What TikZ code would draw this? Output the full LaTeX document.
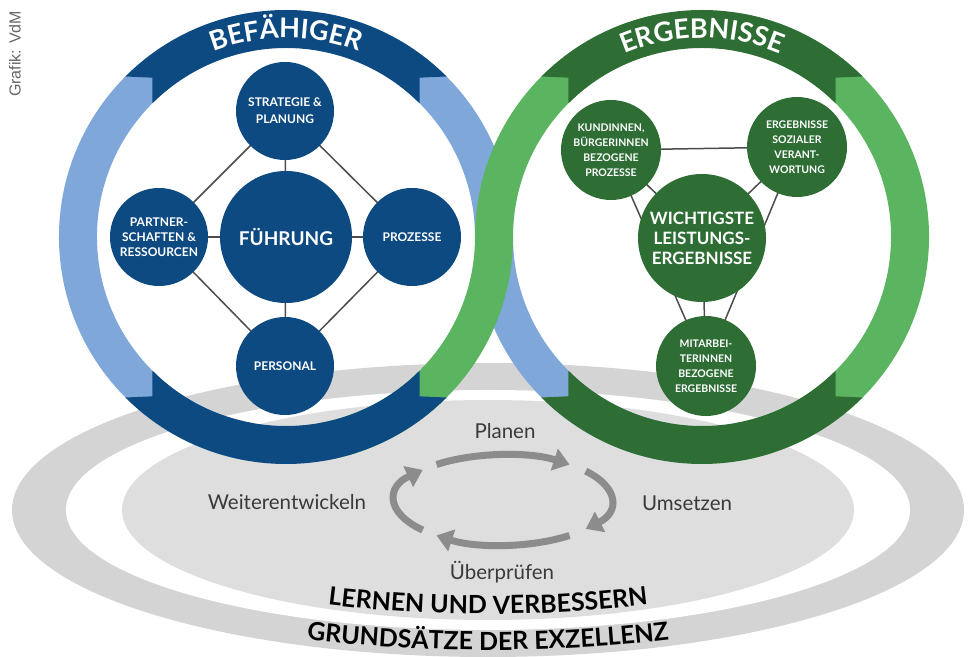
\documentclass[tikz,border=0pt]{standalone}
\usepackage{fontspec}
\setmainfont{Lato}
\newfontfamily\grafikfont{Liberation Sans}
\usetikzlibrary{arrows.meta,decorations.text,backgrounds}

\definecolor{befblue}{HTML}{0D4A82}
\definecolor{beflight}{HTML}{7FA7DA}
\definecolor{ergreen}{HTML}{2E6E35}
\definecolor{erlight}{HTML}{5BB45F}
\definecolor{greyout}{HTML}{D4D4D4}
\definecolor{greyin}{HTML}{DEDEDE}
\definecolor{cyclegrey}{HTML}{8C8C8C}
\definecolor{textgrey}{HTML}{3A3A3A}

\begin{document}
\begin{tikzpicture}[x=1pt, y=1pt,
    bluenode/.style={circle, fill=befblue, text=white, align=center, inner sep=0pt, minimum size=98pt, font=\fontsize{12}{15}\selectfont\bfseries},
    greennode/.style={circle, fill=ergreen, text=white, align=center, inner sep=0pt, minimum size=100pt, font=\fontsize{10.5}{15}\selectfont\bfseries},
    link/.style={draw=black!70, line width=1.5pt},
    lightring/.style={line width=38pt},
    cyclearrow/.style={draw=cyclegrey, line width=7pt, -{Triangle[length=16pt,width=22pt]}},
    cyclelabel/.style={text=textgrey, font=\fontsize{20.5}{23}\selectfont}
  ]
  \useasboundingbox (0,0) rectangle (968,656);

  % Centres of rings, ellipses and cycle
  \coordinate (L) at (286,419);
  \coordinate (R) at (702,419);
  \coordinate (E) at (488,146);
  \coordinate (C) at (503,156);

  % Grey ellipses
  \fill[greyout] (E) ellipse[x radius=476, y radius=147];
  \fill[white] (E) ellipse[x radius=422, y radius=120];
  \fill[greyin] (E) ellipse[x radius=366, y radius=110];

  % Light parts of the rings
  \draw[lightring, beflight] ([shift={(L)}]100:208) arc[start angle=100, end angle=260, radius=208];
  \draw[lightring, erlight] ([shift={(R)}]80:208) arc[start angle=80, end angle=-80, radius=208];
  % crossing: blue runs on into the right ring, green into the left one
  \draw[lightring, beflight] ([shift={(L)}]80:208) arc[start angle=80, end angle=0, radius=208] arc[start angle=180, end angle=260, radius=208];
  \draw[lightring, erlight] ([shift={(R)}]100:208) arc[start angle=100, end angle=180, radius=208] arc[start angle=0, end angle=-80, radius=208];

  % Dark parts of the rings
  \foreach \c/\col in {L/befblue, R/ergreen}
    \foreach \a in {45,225}
      \fill[\col] ([shift={(\c)}]\a:227) arc[start angle=\a, delta angle=90, radius=227]
        -- ([shift={(\c)}]\a+85:208) -- ([shift={(\c)}]\a+90:189)
        arc[start angle=\a+90, delta angle=-90, radius=189]
        -- ([shift={(\c)}]\a+5:208) -- cycle;

  % Ring titles
  \path[decorate, decoration={text along path, text color=white, text align=center,
      text={|\fontsize{27}{30}\selectfont\bfseries|BEFÄHIGER}}]
    ([shift={(L)}]135:199) arc[start angle=135, end angle=45, radius=199];
  \path[decorate, decoration={text along path, text color=white, text align=center,
      text={|\fontsize{27}{30}\selectfont\bfseries|ERGEBNISSE}}]
    ([shift={(R)}]135:199) arc[start angle=135, end angle=45, radius=199];

  % Befähiger nodes
  \node[bluenode, minimum size=132pt, font=\fontsize{19}{22}\selectfont\bfseries] (fuehrung) at (286,419) {FÜHRUNG};
  \node[bluenode, font=\fontsize{12}{17}\selectfont\bfseries] (strategie) at (285,545) {STRATEGIE \&\\PLANUNG};
  \node[bluenode] (partner) at (159,419) {PARTNER-\\SCHAFTEN \&\\RESSOURCEN};
  \node[bluenode] (prozesse) at (412,419) {PROZESSE};
  \node[bluenode] (personal) at (285,290) {PERSONAL};

  % Ergebnis nodes
  \node[greennode, minimum size=128pt, font=\fontsize{17}{20}\selectfont\bfseries] (wichtig) at (702,418) {WICHTIGSTE\\LEISTUNGS-\\ERGEBNISSE};
  \node[greennode] (kunden) at (611,506) {KUNDINNEN,\\BÜRGERINNEN\\BEZOGENE\\PROZESSE};
  \node[greennode] (sozial) at (797,509) {ERGEBNISSE\\SOZIALER\\VERANT-\\WORTUNG};
  \node[greennode] (mitarb) at (706,290) {MITARBEI-\\TERINNEN\\BEZOGENE\\ERGEBNISSE};

  % Links (behind the circles)
  \begin{scope}[on background layer]
    \draw[link] (strategie.center) -- (prozesse.center);
    \draw[link] (prozesse.center) -- (personal.center);
    \draw[link] (personal.center) -- (partner.center);
    \draw[link] (partner.center) -- (strategie.center);
    \draw[link] (fuehrung.center) -- (strategie.center);
    \draw[link] (fuehrung.center) -- (prozesse.center);
    \draw[link] (fuehrung.center) -- (personal.center);
    \draw[link] (fuehrung.center) -- (partner.center);
    \draw[link] (kunden.center) -- (sozial.center);
    \draw[link] (kunden.center) -- (mitarb.center);
    \draw[link] (sozial.center) -- (mitarb.center);
    \draw[link] (wichtig.center) -- (kunden.center);
    \draw[link] (wichtig.center) -- (sozial.center);
    \draw[link] (wichtig.center) -- (mitarb.center);
  \end{scope}

  % Cycle
  \draw[cyclearrow] ([shift={(C)}]128:108 and 45) arc[start angle=128, end angle=52, x radius=108, y radius=45];
  \draw[cyclearrow] ([shift={(C)}]40:108 and 45) arc[start angle=40, end angle=-40, x radius=108, y radius=45];
  \draw[cyclearrow] ([shift={(C)}]-52:108 and 45) arc[start angle=-52, end angle=-128, x radius=108, y radius=45];
  \draw[cyclearrow] ([shift={(C)}]222:108 and 45) arc[start angle=222, end angle=138, x radius=108, y radius=45];

  \node[cyclelabel] (planen) at (505,225) {Planen};
  \node[cyclelabel] (umsetzen) at (687,153) {Umsetzen};
  \node[cyclelabel] (weiter) at (287,154) {Weiterentwickeln};
  \node[cyclelabel] (pruefen) at (502,84) {Überprüfen};

  % Curved titles at the bottom
  \path[decorate, decoration={text along path, text align=center,
      text={|\fontsize{25}{28}\selectfont\bfseries|LERNEN UND VERBESSERN}}]
    ([shift={(E)}]200:385 and 104) arc[start angle=200, end angle=340, x radius=385, y radius=104];
  \path[decorate, decoration={text along path, text align=center,
      text={|\fontsize{25}{28}\selectfont\bfseries|GRUNDSÄTZE DER EXZELLENZ}}]
    ([shift={(E)}]200:480 and 140) arc[start angle=200, end angle=340, x radius=480, y radius=140];

  \node[rotate=90, text=black!60, font=\grafikfont\fontsize{16}{18}\selectfont] (grafik) at (15,602) {Grafik: VdM};

\end{tikzpicture}
\end{document}
